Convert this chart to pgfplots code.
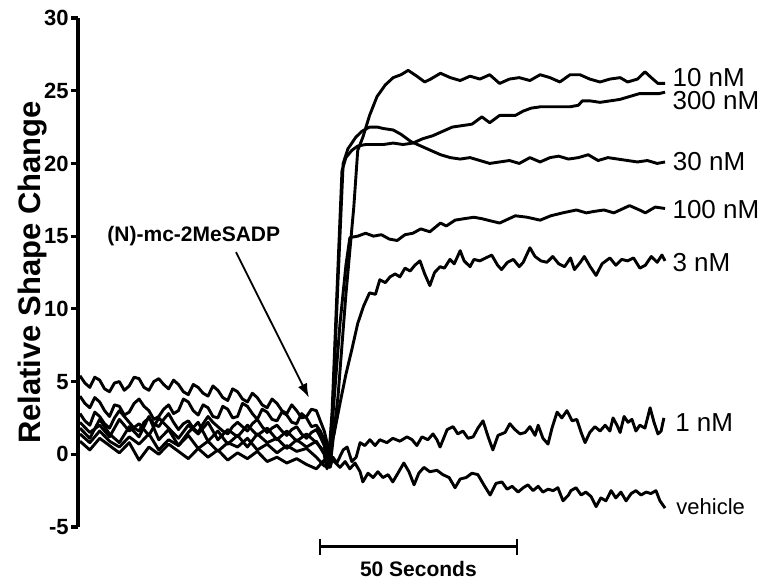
\documentclass[border=0pt]{standalone}
\usepackage{fontspec}
\setmainfont{Liberation Sans}
\usepackage{pgfplots}
\pgfplotsset{compat=1.18}
\usetikzlibrary{arrows.meta}

\begin{document}
\begin{tikzpicture}
\begin{axis}[
  scale only axis,
  width=295.5pt, height=254.5pt,
  xmin=0, xmax=150, ymin=-5, ymax=30,
  axis x line=none,
  axis y line*=left,
  ytick={-5,0,5,10,15,20,25,30},
  tick align=outside,
  major tick length=3.5pt,
  every tick/.style={black,line width=1.6pt},
  axis line style={line width=1.8pt},
  /pgf/number format/assume math mode=true,
  yticklabel style={font=\bfseries\fontsize{11}{12}\selectfont,inner sep=1pt},
  ylabel={Relative Shape Change},
  every axis y label/.style={at={(axis description cs:-0.063,0.5)},rotate=90,anchor=base,
    font=\bfseries\fontsize{15.5}{16}\selectfont},
  clip=false,
  cycle list={{black,solid}},
  every axis plot post/.append style={black,solid,line width=1.45pt,mark=none,line join=round},
]
% 10 nM
\addplot coordinates {
(0.5,5.4)(1.75,4.9)(3,4.6)(4.25,5.3)(5.5,5.1)(6.75,4.5)(8,4.3)(9.25,4.9)(10.5,5.0)(11.75,4.4)
(13,4.7)(14.25,5.3)(15.5,5.2)(16.75,4.6)(18,4.4)(19.25,5.0)(20.5,5.2)(21.75,4.8)(23,4.5)
(24.25,5.1)(25.5,4.8)(26.75,4.3)(28,4.1)(29.25,4.8)(30.5,4.6)(31.75,4.2)(33,4.0)(34.25,4.7)
(35.5,4.4)(36.75,3.9)(38,3.7)(39.25,4.5)(40.5,4.3)(41.75,3.8)(43,3.6)(44.25,4.2)(45.5,3.9)
(46.75,3.4)(48,3.2)(49.25,3.8)(50.5,3.5)(51.75,3.0)(53,2.8)(54.25,3.4)(55.5,3.0)(56.75,2.5)
(58,2.6)(59.25,3.1)(60.5,3.0)(61.5,2.3)(62.5,1.6)(64.2,-0.3)
(66,4)(68,11)(70,17)(71,20.9)(72.3,21.8)(74,23.3)(75.9,24.6)(78,25.4)(80,25.9)(82,26.1)
(83.8,26.4)(86,26.0)(88,25.6)(89.5,25.8)(92,26.2)(94.5,25.9)(97,25.7)(99.5,26.0)
(102,25.8)(104.5,26.1)(107,25.5)(109.5,25.8)(112,25.9)(114.7,25.7)(117.3,26.1)(119.8,25.9)
(122.3,25.6)(124.9,26.1)(127.4,26.1)(129.9,25.8)(132.5,25.6)(135,25.8)(137.6,25.9)(139.5,25.6)
(142,25.8)(143.9,26.3)(145.5,25.9)(147.2,25.5)(149,25.5)};
% 30 nM
\addplot coordinates {
(0.5,4.0)(1.75,3.5)(3,3.2)(4.25,3.9)(5.5,3.6)(6.75,3.0)(8,2.6)(9.25,3.4)(10.5,3.3)(11.75,2.7)
(13,2.9)(14.25,3.5)(15.5,3.8)(16.75,3.3)(18,3.0)(19.25,2.4)(20.5,2.6)(21.75,3.1)(23,3.4)
(24.25,2.8)(25.5,3.0)(26.75,3.8)(28,3.6)(29.25,3.0)(30.5,2.7)(31.75,3.4)(33,3.2)(34.25,2.6)
(35.5,2.5)(36.75,3.3)(38,3.1)(39.25,2.5)(40.5,2.6)(41.75,3.5)(43,3.3)(44.25,2.8)(45.5,2.4)
(46.75,3.1)(48,2.9)(49.25,2.4)(50.5,2.3)(51.75,2.9)(53,2.7)(54.25,2.2)(55.5,2.1)(56.75,2.8)
(58,2.5)(59.25,1.9)(60.5,2.0)(61.5,1.6)(62.5,1.0)(63.8,-0.5)
(64.5,2)(66,12)(67.3,20.0)(68.5,21.0)(70.5,21.8)(72,22.2)(74,22.5)(76,22.5)(77.5,22.4)(80,22.3)
(82,22.0)(84.5,21.5)(87,21.2)(89.5,20.9)(92,20.6)(94.5,20.4)(97,20.3)(99.5,20.4)(102,20.2)
(104.5,20.0)(107,20.1)(109.5,20.2)(112,20.0)(114.7,20.4)(117.3,20.1)(119.8,20.4)(122,20.5)
(124.5,20.3)(127,20.4)(129.5,20.6)(132,20.2)(134.5,20.4)(137,20.3)(139.5,20.2)(142,20.1)
(144.5,20.2)(147,20.0)(149,20.1)};
% 300 nM
\addplot coordinates {
(0.5,2.8)(1.75,2.3)(3,2.0)(4.25,2.9)(5.5,2.6)(6.75,2.1)(8,1.8)(9.25,2.5)(10.5,3.0)(11.75,2.6)
(13,2.2)(14.25,1.8)(15.5,1.6)(16.75,2.2)(18,2.5)(19.25,2.1)(20.5,1.9)(21.75,2.4)(23,2.8)
(24.25,2.2)(25.5,1.7)(26.75,2.1)(28,2.3)(29.25,1.8)(30.5,1.5)(31.75,2.1)(33,2.6)(34.25,2.2)
(35.5,1.9)(36.75,1.6)(38,1.4)(39.25,1.9)(40.5,2.2)(41.75,1.9)(43,1.6)(44.25,2.1)(45.5,2.4)
(46.75,1.9)(48,1.5)(49.25,1.8)(50.5,2.0)(51.75,1.6)(53,1.3)(54.25,1.7)(55.5,1.9)(56.75,1.4)
(58,1.1)(59.25,1.5)(60.5,1.7)(61.5,1.2)(62.5,0.6)(63.5,-0.8)
(64.5,3)(66,13)(67,19.5)(68,20.4)(69.5,20.9)(71,21.2)(73,21.3)(75,21.3)(77.5,21.3)(80,21.4)
(82.5,21.3)(85,21.4)(87.5,21.7)(90,21.9)(92.5,22.2)(95,22.5)(97.5,22.6)(100,22.7)(102.5,23.2)
(104.5,22.8)(107,23.3)(111,23.3)(113,23.6)(115,23.8)(117.5,23.9)(120,23.9)(122.5,23.9)
(125,23.9)(127,24.0)(128,24.3)(130,24.3)(132.5,24.2)(135,24.3)(137.5,24.4)(140,24.6)
(142.5,24.8)(145,24.8)(147.5,24.8)(149,24.9)};
% 100 nM
\addplot coordinates {
(0.5,2.2)(3,1.5)(5.5,2.0)(8,1.2)(10.5,2.4)(13,1.6)(15.5,2.1)(18,1.3)(20.5,2.5)(23,1.8)
(25.5,1.1)(28,2.0)(30.5,1.4)(33,2.2)(35.5,1.0)(38,1.7)(40.5,1.2)(43,2.0)(45.5,1.3)(48,1.8)
(50.5,1.0)(53,1.6)(55.5,0.9)(58,1.4)(60.5,0.8)(62.5,0.2)(63.2,-1.0)
(64.5,2)(66.5,9)(68,13)(69,14.9)(71,15.0)(73,15.2)(75,15.0)(77,15.1)(79,14.8)
(81,14.7)(83,15.1)(85,15.2)(87,15.5)(89.3,15.3)(92,15.9)(93.5,15.7)(95.7,16.1)(98,16.2)
(100.5,16.3)(102.5,16.2)(107,15.9)(111,16.4)(114,16.3)(117.3,16.1)(120,16.4)(123,16.6)
(126.5,16.8)(129,16.6)(131,16.7)(133.5,16.8)(136,16.6)(140,17.1)(142.5,16.8)(144,16.6)
(146.5,17.0)(149,16.9)};
% 3 nM
\addplot coordinates {
(0.5,1.8)(3,1.1)(5.5,2.4)(8,1.4)(10.5,0.8)(13,1.9)(15.5,1.2)(18,2.6)(20.5,1.0)(23,1.7)
(25.5,0.6)(28,1.5)(30.5,2.2)(33,0.9)(35.5,1.6)(38,0.7)(40.5,1.3)(43,0.5)(45.5,1.4)(48,0.8)
(50.5,1.1)(53,0.4)(55.5,1.0)(58,0.5)(60.5,0.9)(62.5,0.0)(63,-0.8)
(64,0.5)(65,1.4)(66.5,3.5)(68,5.5)(69.5,7.2)(71,9.0)(72.5,10.2)(74,11.1)(75.5,11.0)(76.6,12.0)
(78,11.8)(79.2,12.2)(80.5,12.4)(81.7,12.2)(83,12.8)(84.3,12.6)(85.5,13.0)(86.8,13.3)(88,12.4)
(89.3,11.6)(90.5,12.5)(91.9,12.9)(93,12.8)(94.4,13.4)(95.5,13.1)(97,14.0)(98,13.3)(99.5,12.9)
(100.5,13.4)(102,13.3)(103.5,13.5)(105,13.7)(106.5,13.0)(107.5,12.7)(109,13.2)(110.5,13.4)
(112,12.9)(113,13.2)(114.7,14.2)(116,13.6)(117.5,13.3)(119,13.2)(120.5,13.6)(122,13.1)
(123.5,12.9)(125,13.5)(126,12.7)(127.5,13.2)(128.5,13.6)(130,12.9)(131.5,12.3)(133,13.1)
(135,13.5)(136.5,13.0)(138,13.4)(139.5,13.3)(141,13.5)(142.6,12.8)(144,13.0)(145.5,13.6)
(147,13.2)(148.2,13.7)(149,13.3)};
% 1 nM
\addplot coordinates {
(0.5,1.4)(3,0.8)(5.5,1.6)(8,0.9)(10.5,0.5)(13,1.2)(15.5,0.7)(18,1.4)(20.5,0.3)(23,1.0)
(25.5,0.6)(28,1.3)(30.5,0.4)(33,0.9)(35.5,0.2)(38,0.8)(40.5,0.5)(43,1.1)(45.5,0.3)(48,0.7)
(50.5,0.1)(53,0.6)(55.5,0.2)(58,0.4)(60.5,-0.2)(62.5,-0.8)
(64.0,-0.9)(64.7,-0.2)(65.7,-0.6)(67.3,0.3)(68.3,0.5)(69.5,-0.5)(70.6,-0.2)(71.6,0.8)(72.8,0.6)
(74.1,1.0)(75.4,0.6)(76.6,1.0)(78.4,0.8)(79.9,1.1)(81.7,0.9)(83.5,1.2)(84.8,1.0)(86.0,0.6)
(87.3,1.2)(88.8,1.0)(90.1,1.4)(91.1,1.0)(91.9,0.5)(93.7,1.7)(95.2,1.9)(96.4,1.4)(97.7,1.6)
(99.0,1.1)(100.3,1.2)(101.5,1.8)(102.8,2.3)(104.1,1.2)(105.3,0.3)(106.6,1.3)(108.4,1.5)
(109.6,2.1)(110.9,1.7)(112.2,1.4)(113.5,1.5)(114.7,1.9)(116.0,1.3)(116.8,2.0)(118.0,1.1)
(119.3,0.7)(120.3,1.8)(121.6,2.9)(122.8,2.5)(124.1,3.0)(125.4,2.3)(126.6,2.4)(127.7,1.5)
(128.7,0.8)(129.9,1.5)(131.2,1.9)(132.5,1.6)(133.8,2.0)(135.0,1.6)(135.8,2.5)(136.8,2.0)
(137.6,1.5)(138.6,2.6)(139.6,2.2)(140.6,2.4)(141.6,1.6)(142.6,2.0)(143.9,1.8)(145.2,3.2)
(146.2,2.2)(147.2,1.4)(148.0,1.6)(148.7,2.5)};
% vehicle
\addplot coordinates {
(0.5,0.9)(3,0.3)(5.5,1.1)(8,0.6)(10.5,0.1)(13,0.8)(15.5,-0.4)(18,0.5)(20.5,0.0)(23,0.7)
(25.5,0.2)(28,-0.3)(30.5,0.4)(33,-0.2)(35.5,0.3)(38,-0.4)(40.5,0.1)(43,-0.3)(45.5,0.2)(48,-0.5)
(50.5,-0.2)(53,-0.6)(55.5,-0.3)(58,-0.7)(60.5,-1.0)(62.5,-0.4)
(64.7,-0.4)(66.5,-0.9)(67.8,-0.5)(69.0,-1.0)(70.3,-0.6)(71.6,-1.2)(72.3,-1.9)(73.6,-1.3)
(74.9,-1.6)(76.1,-1.2)(77.4,-1.6)(78.7,-1.4)(79.9,-1.9)(81.2,-1.3)(82.7,-0.6)(84.0,-1.2)
(85.3,-2.1)(86.5,-1.3)(87.8,-0.9)(89.3,-1.2)(91.1,-1.1)(92.6,-1.4)(94.2,-1.6)(95.7,-2.3)
(97.0,-1.7)(98.5,-1.6)(100.0,-1.3)(101.5,-1.4)(103.0,-2.1)(104.6,-2.8)(106.1,-2.0)(107.6,-1.9)
(108.9,-2.4)(110.2,-2.2)(111.7,-2.6)(113.0,-2.3)(114.2,-2.1)(115.5,-2.5)(116.8,-2.2)(118.0,-2.6)
(119.3,-2.4)(120.6,-2.5)(121.8,-2.3)(123.1,-3.2)(124.5,-2.8)(125.1,-2.5)(126.4,-2.3)(127.7,-2.8)
(128.9,-2.6)(130.2,-2.9)(131.5,-3.6)(132.7,-3.0)(134.0,-3.2)(135.3,-2.5)(136.5,-3.0)(137.8,-2.6)
(139.1,-3.2)(140.4,-2.7)(141.6,-2.5)(142.9,-2.8)(144.2,-2.6)(145.4,-2.7)(146.7,-2.5)(147.7,-3.2)
(149.0,-3.7)};

% curve labels
\begin{scope}[every node/.style={anchor=west,inner sep=0pt,font=\fontsize{13}{14}\selectfont}]
\node at (axis cs:150.8,25.9) {10 nM};
\node at (axis cs:150.8,24.3) {300 nM};
\node at (axis cs:150.9,20.1) {30 nM};
\node at (axis cs:150.8,16.8) {100 nM};
\node at (axis cs:150.8,13.2) {3 nM};
\node at (axis cs:151.5,2.2) {1 nM};
\node[font=\fontsize{11}{12}\selectfont] at (axis cs:151.8,-3.6) {vehicle};
\end{scope}

% injection marker
\node[font=\bfseries\fontsize{10.5}{11}\selectfont] at (axis cs:29.4,15.0) {(N)-mc-2MeSADP};
\draw[line width=0.9pt,-{Latex[length=7pt,width=5pt]}] (axis cs:40.1,13.9) -- (axis cs:58.6,3.9);

% time scale bar
\draw[line width=1.4pt] (axis cs:61.4,-6.33) -- (axis cs:111.4,-6.33);
\draw[line width=1.4pt] (axis cs:61.4,-5.8) -- (axis cs:61.4,-6.9);
\draw[line width=1.4pt] (axis cs:111.4,-5.8) -- (axis cs:111.4,-6.9);
\node[font=\bfseries\fontsize{10.5}{11}\selectfont] at (axis cs:86.4,-7.9) {50 Seconds};
\end{axis}
\pgfresetboundingbox
\useasboundingbox (-39pt,-26.5pt) rectangle (344.5pt,263.5pt);
\end{tikzpicture}
\end{document}
